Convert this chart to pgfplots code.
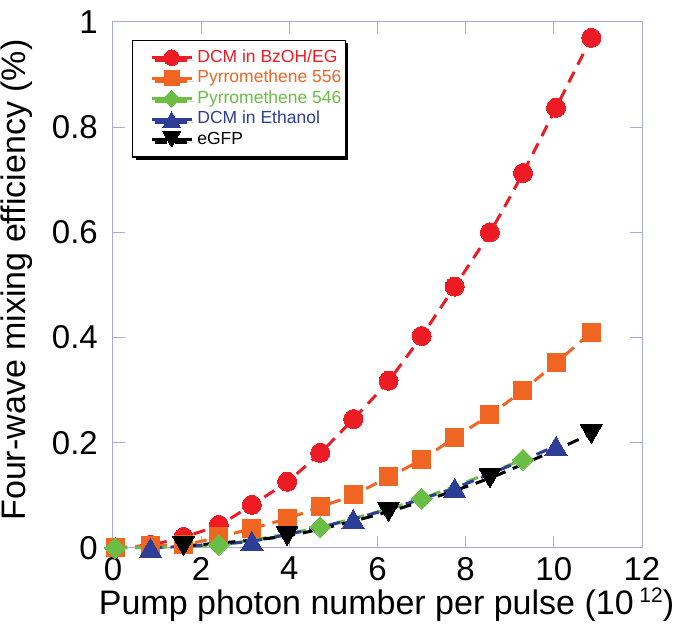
\documentclass[border=0pt]{standalone}
\usepackage{fontspec}
\setmainfont{Liberation Sans}
\usepackage{pgfplots}
\pgfplotsset{compat=1.18}
\usetikzlibrary{shadows}
\definecolor{cred}{RGB}{237,28,36}
\definecolor{corange}{RGB}{241,101,34}
\definecolor{cgreen}{RGB}{106,189,69}
\definecolor{cblue}{RGB}{46,62,150}
\definecolor{cframe}{RGB}{165,172,218}
\begin{document}
\begin{tikzpicture}
\begin{axis}[
  name=ax,
  at={(0pt,0pt)}, anchor=south west,
  scale only axis, width=529pt, height=526pt,
  xmin=0, xmax=12, ymin=0, ymax=1,
  xtick={0,2,4,6,8,10,12},
  ytick={0,0.2,0.4,0.6,0.8,1},
  tick pos=both, xticklabel pos=lower, yticklabel pos=left,
  tick align=inside, major tick length=12pt,
  axis line style={cframe, line width=1pt},
  every tick/.style={cframe, line width=1pt},
  /pgf/number format/assume math mode=true,
  tick label style={font=\fontsize{33}{36}\selectfont, black},
  yticklabel style={inner sep=0pt, anchor=east, xshift=-15pt},
  xticklabel style={inner sep=0pt, anchor=north, yshift=-9pt},
  xlabel={Pump photon number per pulse (10\,\raisebox{13pt}{\fontsize{21}{22}\selectfont 12})},
  ylabel={Four-wave mixing efficiency (\%)},
  label style={font=\fontsize{34}{36}\selectfont},
  xlabel style={at={(axis description cs:0.5,0)}, anchor=base, inner sep=0pt, yshift=-67pt, xshift=9pt},
  ylabel style={at={(axis description cs:-0.2117,0.5095)}, anchor=north, inner sep=0pt},
  clip=false,
  legend cell align=left,
  legend style={at={(axis description cs:0.036,0.966)}, anchor=north west,
    draw=black, line width=1.2pt, fill=white,
    drop shadow={shadow xshift=3pt, shadow yshift=-3pt, fill=black, opacity=1},
    font=\fontsize{17.5}{20}\selectfont,
    inner xsep=2pt, inner ysep=7pt, row sep=0pt,
    nodes={inner sep=1.75pt, text height=13pt, text depth=4pt}},
  legend image code/.code={
    \path (-16pt,0pt);
    \draw[solid, line width=3pt, mark repeat=2, mark phase=2, every mark/.append style={scale=0.82}] plot coordinates {(0pt,0pt) (19.5pt,0pt) (39pt,0pt)};
    \path (42pt,0pt);
  },
  every axis plot/.append style={line width=3pt, dash pattern=on 12pt off 8pt, smooth, tension=0.45},
]
\addplot[cred, mark=*, mark size=9.5pt, mark options={solid, fill=cred, draw=cred, line width=0pt}]
coordinates {(0.05,0.0) (0.85,0.006) (1.6,0.021) (2.4,0.044) (3.15,0.082) (3.95,0.126) (4.7,0.181) (5.45,0.245) (6.25,0.318) (7.0,0.403) (7.75,0.497) (8.55,0.6) (9.3,0.713) (10.05,0.837) (10.85,0.970)};
\addlegendentry{\textcolor{cred}{DCM in BzOH/EG}}
\addplot[corange, mark=square*, mark size=9pt, mark options={solid, fill=corange, draw=corange, line width=0pt}]
coordinates {(0.05,0.0) (0.85,0.004) (1.6,0.006) (2.4,0.021) (3.15,0.037) (3.95,0.056) (4.7,0.078) (5.45,0.101) (6.25,0.135) (7.0,0.168) (7.75,0.21) (8.55,0.253) (9.3,0.30) (10.05,0.352) (10.85,0.41)};
\addlegendentry{\textcolor{corange}{Pyrromethene 556}}
\addplot[cgreen, mark=square*, mark size=7.4pt, mark options={solid, rotate=45, fill=cgreen, draw=cgreen, line width=0pt}]
coordinates {(0.05,0.0) (2.4,0.006) (4.7,0.04) (7.0,0.094) (9.3,0.168)};
\addlegendentry{\textcolor{cgreen}{Pyrromethene 546}}
\addplot[cblue, mark=triangle*, mark size=13pt, mark options={solid, yshift=-3.25pt, fill=cblue, draw=cblue, line width=0pt}]
coordinates {(0.85,0.0) (3.15,0.013) (5.45,0.055) (7.75,0.114) (10.05,0.194)};
\addlegendentry{\textcolor{cblue}{DCM in Ethanol}}
\addplot[black, mark=triangle*, mark size=12.5pt, mark options={solid, rotate=180, yshift=-3.1pt, fill=black, draw=black, line width=0pt}]
coordinates {(1.6,0.004) (3.95,0.023) (6.25,0.069) (8.55,0.133) (10.85,0.217)};
\addlegendentry{eGFP}
\end{axis}
\pgfresetboundingbox
\path[use as bounding box] ([shift={(-113pt,-89pt)}]ax.south west) rectangle ([shift={(33pt,22pt)}]ax.north east);
\end{tikzpicture}
\end{document}
